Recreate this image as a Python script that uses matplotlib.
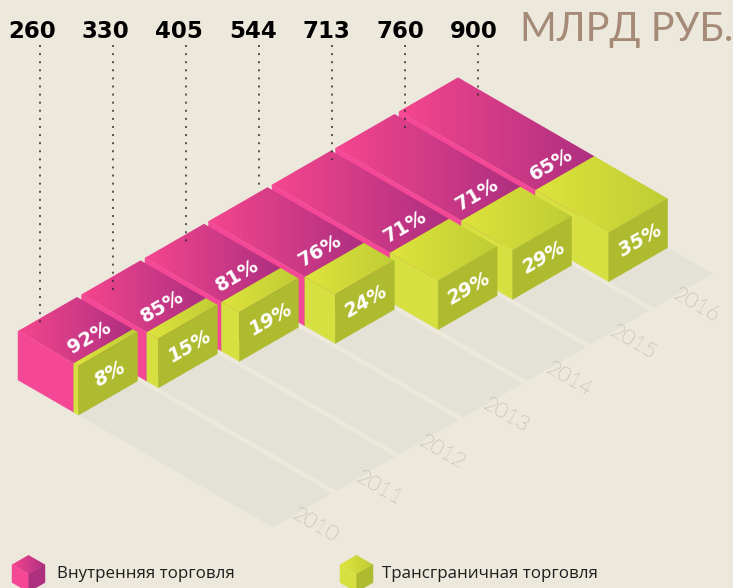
import numpy as np
import matplotlib
matplotlib.use("Agg")
import matplotlib.pyplot as plt
from matplotlib.colors import to_rgb
from matplotlib.patches import Polygon

years = ["2010", "2011", "2012", "2013", "2014", "2015", "2016"]
totals = [260, 330, 405, 544, 713, 760, 900]
domestic_share = [92, 85, 81, 76, 71, 71, 65]
crossborder_share = [8, 15, 19, 24, 29, 29, 35]
legend_names = ["Внутренняя торговля", "Трансграничная торговля"]
unit_label = "МЛРД РУБ."

# isometric layout in pixels
ORIGIN = np.array([18.0, 331.0])
ROW_STEP = np.array([63.5, -36.6])
U = np.array([1.0, 0.578])
V = np.array([59.0, -34.0])
HEIGHT = 49.0
PX_PER_VALUE = 0.233
AXIS_MAX = 1094
LEADER_END = [328, 291, 245, 190, 160, 130, 97]

BG = "#ECE8DC"
FLOOR = "#E4E1D6"
PINK_TOP = ("#F5468E", "#AD2F80")
PINK_LEFT = "#F44796"
PINK_RIGHT = "#AE2F7E"
GREEN_TOP = ("#DFE33C", "#BECD35")
GREEN_LEFT = "#D7E041"
GREEN_RIGHT = "#AFBB2F"

fig = plt.figure(figsize=(7.33, 5.88), dpi=100, facecolor=BG)
ax = fig.add_axes([0, 0, 1, 1])
ax.set_facecolor(BG)
ax.axis("off")

zorder = [10]


def face(points, color):
    zorder[0] += 1
    ax.add_patch(Polygon(points, closed=True, facecolor=color, edgecolor=color,
                         linewidth=0.3, zorder=zorder[0]))


def gradient_face(points, colors):
    zorder[0] += 1
    points = np.array(points)
    left = np.array(to_rgb(colors[0]))
    right = np.array(to_rgb(colors[1]))
    t = np.linspace(0, 1, 256)[None, :, None]
    img = left[None, None, :] * (1 - t) + right[None, None, :] * t
    im = ax.imshow(img, aspect="auto", interpolation="bilinear", zorder=zorder[0],
                   extent=[points[:, 0].min(), points[:, 0].max(),
                           points[:, 1].max(), points[:, 1].min()])
    clip = Polygon(points, closed=True, transform=ax.transData)
    im.set_clip_path(clip)


def box(start, length, width, height, top, left, right):
    a = start
    b = start + length * U
    c = b + width
    d = a + width
    down = np.array([0, height])
    gradient_face([a, b, c, d], top)
    face([a, b, b + down, a + down], left)
    face([b, c, c + down, b + down], right)


# floor strips
for i in range(len(years)):
    o = ORIGIN + i * ROW_STEP + np.array([0, HEIGHT])
    far = AXIS_MAX * PX_PER_VALUE * U
    ax.add_patch(Polygon([o, o + far, o + far + V, o + V], closed=True,
                         facecolor=FLOOR, edgecolor="none", zorder=2))
    mid = o + far + V * 0.5
    ax.text(mid[0] + 13, mid[1] + 15, years[i], rotation=-30, rotation_mode="anchor",
            ha="center", va="center", fontsize=15.5, color="#85766A",
            family="Lato", weight="light", zorder=3)

# boxes, back to front
for i in reversed(range(len(years))):
    o = ORIGIN + i * ROW_STEP
    total_len = totals[i] * PX_PER_VALUE
    pink_len = total_len * domestic_share[i] / 100
    green_len = total_len - pink_len
    split = o + pink_len * U
    box(o, pink_len, V, HEIGHT, PINK_TOP, PINK_LEFT, PINK_RIGHT)
    box(split, green_len, V, HEIGHT, GREEN_TOP, GREEN_LEFT, GREEN_RIGHT)
    zorder[0] += 1
    pos = split + V * 0.5 + np.array([-14, -9])
    ax.text(pos[0], pos[1], str(domestic_share[i]) + "%", rotation=30,
            rotation_mode="anchor", ha="center", va="center", color="white",
            fontsize=14, family="DejaVu Sans", weight="bold", zorder=zorder[0])
    front = o + total_len * U
    pos = front + V * 0.5 + np.array([2, HEIGHT / 2])
    ax.text(pos[0], pos[1], str(crossborder_share[i]) + "%", rotation=30,
            rotation_mode="anchor", ha="center", va="center", color="white",
            fontsize=14, family="DejaVu Sans", weight="bold", style="italic",
            zorder=zorder[0])

# leaders and totals
for i in range(len(years)):
    x = 40 + 73 * i
    ax.plot([x, x], [45, LEADER_END[i]], color="#2A2A2A", linewidth=1.1,
            linestyle=(0, (1.3, 4)), zorder=500)
    ax.text(32 + 73.7 * i, 31, str(totals[i]), ha="center", va="center",
            fontsize=16.5, family="DejaVu Sans", weight="bold", color="black", zorder=500)

ax.text(733, 30, unit_label, ha="right", va="center", fontsize=28.5,
        family="Lato", weight=400, color="#A58A78", zorder=500)

# legend
legend_width = np.array([16.5, -9.5])
box(np.array([12.0, 564.5]), 16.5, legend_width, 18, PINK_TOP, PINK_LEFT, PINK_RIGHT)
box(np.array([340.0, 564.5]), 16.5, legend_width, 18, GREEN_TOP, GREEN_LEFT, GREEN_RIGHT)
ax.text(57, 574, legend_names[0], ha="left", va="center", fontsize=12.2,
        family="Open Sans", color="#1E1E1E", zorder=500)
ax.text(382, 574, legend_names[1], ha="left", va="center", fontsize=12.2,
        family="Open Sans", color="#1E1E1E", zorder=500)

ax.set_xlim(0, 733)
ax.set_ylim(588, 0)
fig.savefig("out.png", dpi=100, facecolor=BG)
